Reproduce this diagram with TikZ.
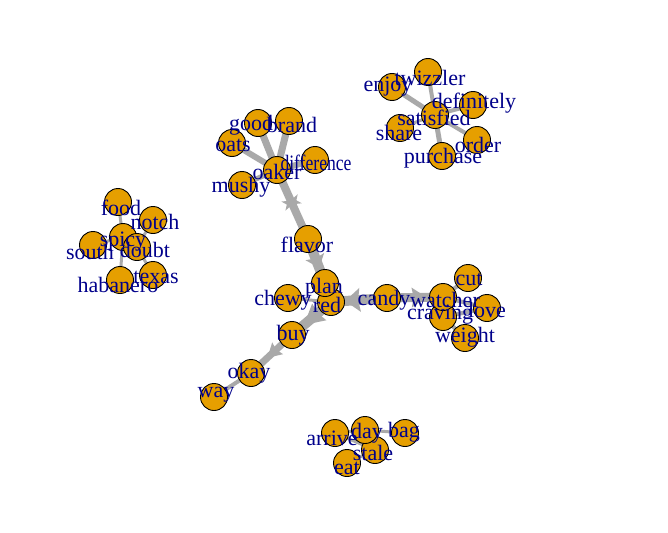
\documentclass[tikz,border=0pt]{standalone}
\usepackage{fontspec}
\setmainfont{Liberation Serif}
\usetikzlibrary{arrows.meta,decorations.markings}
\definecolor{vcol}{HTML}{E69F00}
\definecolor{labcol}{HTML}{00008B}
\definecolor{ecol}{HTML}{A9A9A9}
\pgfdeclarelayer{bg}
\pgfdeclarelayer{edges}
\pgfsetlayers{bg,edges,main}
\tikzset{
  vtx/.style={circle, draw=black, line width=0.9pt, fill=vcol, minimum size=27pt, inner sep=0pt},
  lab/.style={text=labcol, inner sep=0pt, font=\fontsize{22}{22}\selectfont},
  edg/.style={draw=ecol, line width=#1},
  tipat/.style n args={3}{postaction={decorate}, decoration={markings,
     mark=at position #1 with {\fill[ecol] (#3,0) -- (0,#2) -- (2pt,0) -- (0,-#2) -- cycle;}}},
  midstar/.style={postaction={decorate}, decoration={markings,
     mark=at position 0.47 with {\fill[ecol] (7pt,0) -- (-5pt,9pt) -- (-2pt,0) -- (-5pt,-9pt) -- cycle;
     \fill[ecol] (-7pt,0) -- (5pt,9pt) -- (2pt,0) -- (5pt,-9pt) -- cycle;}}}
}
\begin{document}
\begin{tikzpicture}[x=1pt,y=-1pt]
\begin{pgfonlayer}{bg}
\fill[white] (0,0) rectangle (668,532);
\end{pgfonlayer}
\useasboundingbox (0,0) rectangle (668,532);
\begin{scope}[every node/.style={vtx}]
\node (good) at (258,123) {};
\node (brand) at (289,121) {};
\node (oats) at (232,143) {};
\node (difference) at (315,160) {};
\node (mushy) at (242,185) {};
\node (oaker) at (277,170) {};
\node (flavor) at (308,239) {};
\node (chewy) at (288,298) {};
\node (red) at (331,302) {};
\node (plan) at (325,283) {};
\node (buy) at (292,335) {};
\node (okay) at (251,373) {};
\node (way) at (214,397) {};
\node (candy) at (387,298) {};
\node (cut) at (468,278) {};
\node (love) at (487,308) {};
\node (weight) at (465,338) {};
\node (craving) at (443,317) {};
\node (watcher) at (443,297) {};
\node (twizzler) at (428,72) {};
\node (enjoy) at (392,87) {};
\node (definitely) at (473,105) {};
\node (share) at (400,128) {};
\node (order) at (477,140) {};
\node (purchase) at (442,156) {};
\node (satisfied) at (435,115) {};
\node (food) at (118,202) {};
\node (notch) at (153,220) {};
\node (south) at (93,245) {};
\node (habanero) at (120,280) {};
\node (texas) at (153,275) {};
\node (spicy) at (123,237) {};
\node (doubt) at (137,247) {};
\node (arrive) at (335,433) {};
\node (bag) at (405,433) {};
\node (eat) at (347,463) {};
\node (stale) at (375,450) {};
\node (day) at (365,430) {};
\end{scope}
\begin{pgfonlayer}{edges}
% oaker cluster
\draw[edg=7pt] (oaker.center) -- (good.center);
\draw[edg=7pt] (oaker.center) -- (brand.center);
\draw[edg=6pt] (oaker.center) -- (oats.center);
\draw[edg=6pt] (oaker.center) -- (difference.center);
\draw[edg=5pt] (oaker.center) -- (mushy.center);
\draw[edg=8pt, midstar] (oaker.center) -- (flavor.center);
\draw[edg=10pt, tipat={0.4}{10pt}{12pt}] (flavor.center) -- (plan.center);
% center
\draw[edg=10pt, tipat={0.48}{12pt}{15pt}] (candy.center) -- (red.center);
\draw[edg=9pt, tipat={0.44}{10pt}{15pt}] (candy.center) -- (watcher.center);
\draw[edg=4pt] (watcher.center) -- (cut.center);
\draw[edg=4pt] (watcher.center) -- (love.center);
\draw[edg=4pt] (craving.center) -- (weight.center);
\draw[edg=4pt] (craving.center) -- (love.center);
\draw[edg=3pt] (chewy.center) -- (red.center);
\draw[edg=10pt, tipat={0.3}{11pt}{20pt}] (red.center) -- (buy.center);
\draw[edg=7pt, tipat={0.35}{8pt}{14pt}] (buy.center) -- (okay.center);
\draw[edg=4pt] (okay.center) -- (way.center);
% top right
\draw[edg=5pt] (satisfied.center) -- (enjoy.center);
\draw[edg=4pt] (satisfied.center) -- (twizzler.center);
\draw[edg=4pt] (satisfied.center) -- (definitely.center);
\draw[edg=3pt] (satisfied.center) -- (share.center);
\draw[edg=4pt] (satisfied.center) -- (order.center);
\draw[edg=5pt] (satisfied.center) -- (purchase.center);
% left
\draw[edg=3pt] (spicy.center) -- (food.center);
\draw[edg=3pt] (doubt.center) -- (notch.center);
\draw[edg=3pt] (spicy.center) -- (south.center);
\draw[edg=3pt] (spicy.center) -- (habanero.center);
\draw[edg=3pt] (doubt.center) -- (texas.center);
\draw[edg=3pt] (spicy.center) -- (doubt.center);
% bottom
\draw[edg=3pt] (arrive.center) -- (day.center);
\draw[edg=3pt] (day.center) -- (bag.center);
\draw[edg=3pt] (day.center) -- (stale.center);
\draw[edg=3pt] (stale.center) -- (eat.center);
\draw[edg=3pt] (arrive.center) -- (stale.center);
\end{pgfonlayer}
% labels
\begin{scope}[every node/.style={lab}]
\node (lgood) at (251,125) {good};
\node (lbrand) at (292,125) {brand};
\node (loats) at (233,145) {oats};
\node (loaker) at (277,172) {oaker};
\node[xscale=0.8] (ldifference) at (316,163) {difference};
\node (lmushy) at (241,187) {mushy};
\node (lflavor) at (307,245) {flavor};
\node (lplan) at (324,288) {plan};
\node (lred) at (327,305) {red};
\node (lchewy) at (283,300) {chewy};
\node (lbuy) at (293,335) {buy};
\node (lcandy) at (384,300) {candy};
\node (lwatcher) at (445,300) {watcher};
\node (lcraving) at (440,315) {craving};
\node (lcut) at (469,279) {cut};
\node (llove) at (487,310) {love};
\node (lweight) at (465,337) {weight};
\node (lokay) at (249,373) {okay};
\node (lway) at (216,395) {way};
\node (ltwizzler) at (430,78) {twizzler};
\node (lenjoy) at (388,87) {enjoy};
\node (ldefinitely) at (474,103) {definitely};
\node (lsatisfied) at (434,118) {satisfied};
\node (lshare) at (399,133) {share};
\node (lorder) at (478,145) {order};
\node (lpurchase) at (443,158) {purchase};
\node (lfood) at (121,208) {food};
\node (lnotch) at (155,222) {notch};
\node (lspicy) at (123,242) {spicy};
\node (ldoubt) at (145,250) {doubt};
\node (lsouth) at (90,252) {south};
\node (lhabanero) at (118,285) {habanero};
\node (ltexas) at (156,277) {texas};
\node (larrive) at (332,438) {arrive};
\node (lday) at (367,433) {day};
\node (lbag) at (404,432) {bag};
\node (lstale) at (373,453) {stale};
\node (leat) at (347,468) {eat};
\end{scope}
\end{tikzpicture}
\end{document}
